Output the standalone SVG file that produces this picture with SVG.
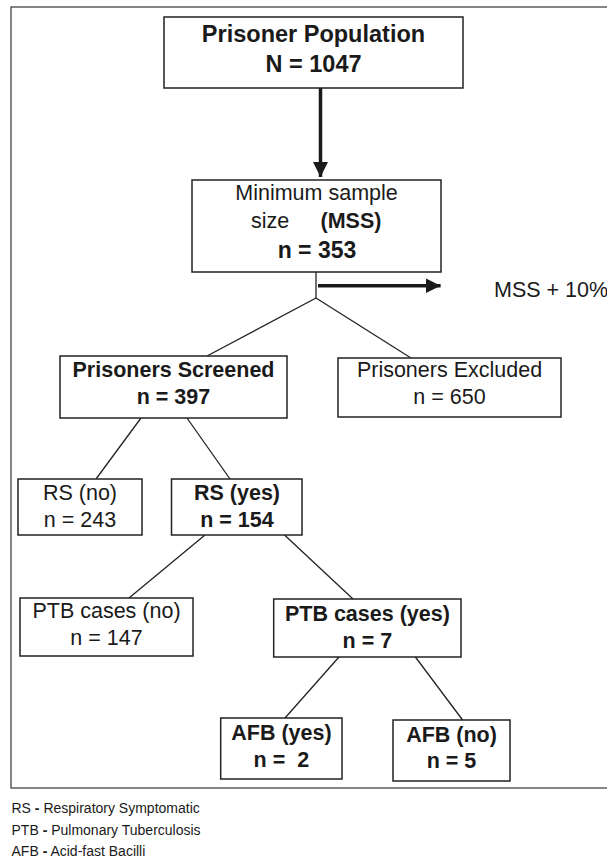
<svg xmlns="http://www.w3.org/2000/svg" width="607" height="859" viewBox="0 0 607 859">
<style>
text{font-family:"Liberation Sans",Arial,sans-serif;fill:#1a1a1a;text-anchor:middle;font-size:21.5px}
.b{font-weight:bold}
.big{font-size:23.5px}
.box{fill:#fff;stroke:#222;stroke-width:1.5}
.ln{stroke:#222;stroke-width:1.3;fill:none}
.thick{stroke:#1a1a1a;stroke-width:3.5;fill:none}
.leg{font-size:14px;text-anchor:start}
</style>
<defs>
<marker id="ah" viewBox="0 0 10 10" refX="10" refY="5" markerWidth="4.3" markerHeight="4.3" orient="auto" markerUnits="strokeWidth">
<path d="M0,0 L10,5 L0,10 Z" fill="#1a1a1a"/>
</marker>
</defs>
<rect x="11" y="7" width="620" height="781" fill="none" stroke="#444" stroke-width="1.3"/>
<g id="connectors">
<line class="thick" x1="320.5" y1="88" x2="320.5" y2="177" marker-end="url(#ah)"/>
<line class="ln" x1="316" y1="272" x2="316" y2="298"/>
<line class="thick" x1="318" y1="285.7" x2="440.6" y2="285.7" stroke-width="3" marker-end="url(#ah)"/>
<line class="ln" x1="316" y1="298" x2="207" y2="356"/>
<line class="ln" x1="316" y1="298" x2="411" y2="358"/>
<line class="ln" x1="141" y1="418" x2="96" y2="479"/>
<line class="ln" x1="187" y1="418" x2="230" y2="479"/>
<line class="ln" x1="205" y1="535" x2="129" y2="598"/>
<line class="ln" x1="284.5" y1="535" x2="353" y2="599"/>
<line class="ln" x1="339" y1="657" x2="285" y2="718"/>
<line class="ln" x1="415.4" y1="657" x2="462.6" y2="720"/>
</g>
<g id="population">
<rect class="box" x="164" y="17" width="299" height="71"/>
<text class="b big" x="313.5" y="42">Prisoner Population</text>
<text class="b big" x="313.5" y="72">N = 1047</text>
</g>
<g id="mss">
<rect class="box" x="192" y="180" width="249" height="92"/>
<text x="316.5" y="200">Minimum sample</text>
<text x="270" y="228">size</text>
<text class="b" x="351" y="228">(MSS)</text>
<text class="b" x="317" y="258" style="font-size:23px">n = 353</text>
</g>
<g id="mss10">
<text x="494" y="296.7" style="text-anchor:start">MSS + 10%</text>
</g>
<g id="screened">
<rect class="box" x="60" y="356" width="227" height="62"/>
<text class="b" x="173.5" y="377">Prisoners Screened</text>
<text class="b" x="173.5" y="404">n = 397</text>
</g>
<g id="excluded">
<rect class="box" x="338" y="358" width="223" height="59"/>
<text x="449.5" y="377">Prisoners Excluded</text>
<text x="449.5" y="404">n = 650</text>
</g>
<g id="rsno">
<rect class="box" x="18" y="479" width="124" height="56"/>
<text x="80" y="500">RS (no)</text>
<text x="80" y="527">n = 243</text>
</g>
<g id="rsyes">
<rect class="box" x="171.5" y="479" width="130.5" height="56"/>
<text class="b" x="237" y="500">RS (yes)</text>
<text class="b" x="237" y="527">n = 154</text>
</g>
<g id="ptbno">
<rect class="box" x="20" y="598" width="173" height="58"/>
<text x="106.5" y="618">PTB cases (no)</text>
<text x="106.5" y="645">n = 147</text>
</g>
<g id="ptbyes">
<rect class="box" x="273.7" y="599" width="187.3" height="58"/>
<text class="b" x="367.4" y="621">PTB cases (yes)</text>
<text class="b" x="367.4" y="648">n = 7</text>
</g>
<g id="afbyes">
<rect class="box" x="220.7" y="718" width="121.3" height="61"/>
<text class="b" x="281.4" y="740">AFB (yes)</text>
<text class="b" x="281.4" y="767" xml:space="preserve">n =  2</text>
</g>
<g id="afbno">
<rect class="box" x="393" y="720" width="117" height="61"/>
<text class="b" x="451.5" y="742">AFB (no)</text>
<text class="b" x="451.5" y="768">n = 5</text>
</g>
<g id="legend">
<text class="leg" x="11.5" y="813">RS <tspan class="b">-</tspan> Respiratory Symptomatic</text>
<text class="leg" x="11.5" y="835">PTB <tspan class="b">-</tspan> Pulmonary Tuberculosis</text>
<text class="leg" x="11.5" y="856">AFB <tspan class="b">-</tspan> Acid-fast Bacilli</text>
</g>
</svg>
